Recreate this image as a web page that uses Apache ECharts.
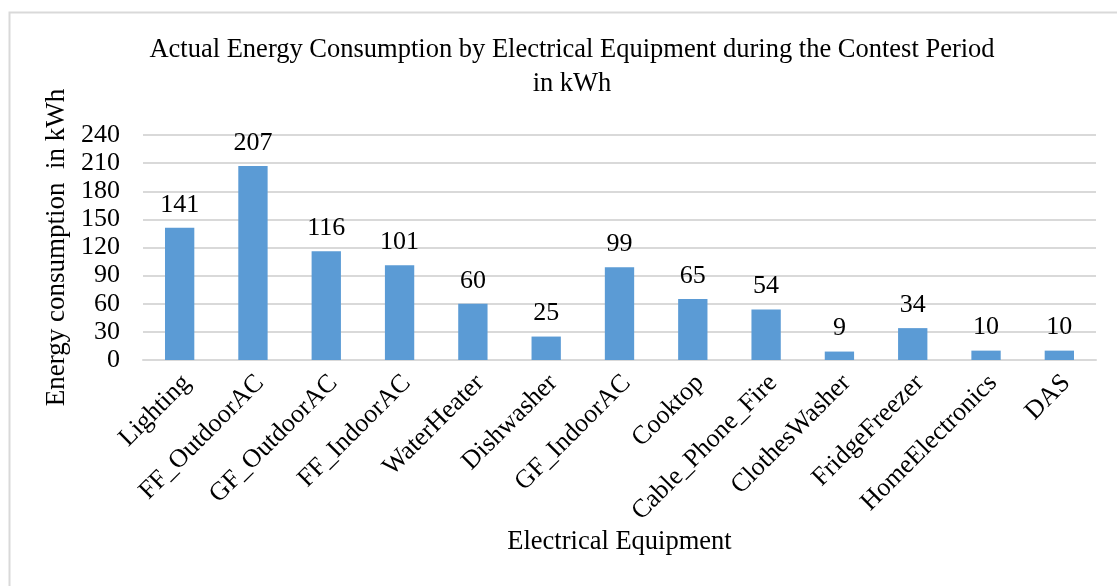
<!DOCTYPE html>
<html>
<head>
<meta charset="utf-8">
<script src="https://cdn.jsdelivr.net/npm/echarts@6/dist/echarts.min.js"></script>
<style>
  html, body { margin: 0; padding: 0; background: #fff; }
  #chart { width: 1117px; height: 586px; }
</style>
</head>
<body>
<div id="chart"></div>
<script>
// equipment names, as on the x axis
var equipment = ['Lighting', 'FF_OutdoorAC', 'GF_OutdoorAC', 'FF_IndoorAC', 'WaterHeater',
  'Dishwasher', 'GF_IndoorAC', 'Cooktop', 'Cable_Phone_Fire', 'ClothesWasher',
  'FridgeFreezer', 'HomeElectronics', 'DAS'];
// kWh used during the contest period
var consumption = [141, 207, 116, 101, 60, 25, 99, 65, 54, 9, 34, 10, 10];

var serif = 'Liberation Serif';

var chart = echarts.init(document.getElementById('chart'));
chart.setOption({
  animation: false,
  backgroundColor: '#fff',
  graphic: [{
    type: 'rect',
    shape: { x: 9.5, y: 12.5, width: 1200, height: 700 },
    style: { fill: 'none', stroke: '#d9d9d9', lineWidth: 2 },
    silent: true
  }],
  title: {
    text: 'Actual Energy Consumption by Electrical Equipment during the Contest Period\nin kWh',
    left: 567,
    top: 28,
    textAlign: 'center',
    textStyle: { fontFamily: serif, fontSize: 26.5, fontWeight: 'normal', color: '#000', lineHeight: 34 }
  },
  grid: { left: 143, right: 21, top: 135, bottom: 226 },
  xAxis: {
    type: 'category',
    data: equipment,
    name: 'Electrical Equipment',
    nameLocation: 'middle',
    nameGap: 168,
    nameTextStyle: { fontFamily: serif, fontSize: 26.5, color: '#000' },
    axisLine: { lineStyle: { color: '#d9d9d9', width: 2 } },
    axisTick: { show: false },
    axisLabel: {
      rotate: 45,
      interval: 0,
      margin: 12,
      verticalAlign: 'top',
      lineHeight: 20,
      fontFamily: serif, fontSize: 26, color: '#000'
    }
  },
  yAxis: {
    type: 'value',
    min: 0,
    max: 240,
    interval: 30,
    name: 'Energy consumption  in kWh',
    nameLocation: 'middle',
    nameRotate: 90,
    nameGap: 67,
    nameTextStyle: { fontFamily: serif, fontSize: 27, color: '#000' },
    axisLine: { show: false },
    axisTick: { show: false },
    splitLine: { lineStyle: { color: '#d9d9d9', width: 2 } },
    axisLabel: { margin: 23, fontFamily: serif, fontSize: 26, color: '#000' }
  },
  series: [{
    type: 'bar',
    data: consumption,
    barWidth: '40%',
    itemStyle: { color: '#5b9bd5' },
    label: {
      show: true,
      position: 'top',
      distance: 10,
      fontFamily: serif, fontSize: 26, color: '#000'
    }
  }]
});
</script>
</body>
</html>
